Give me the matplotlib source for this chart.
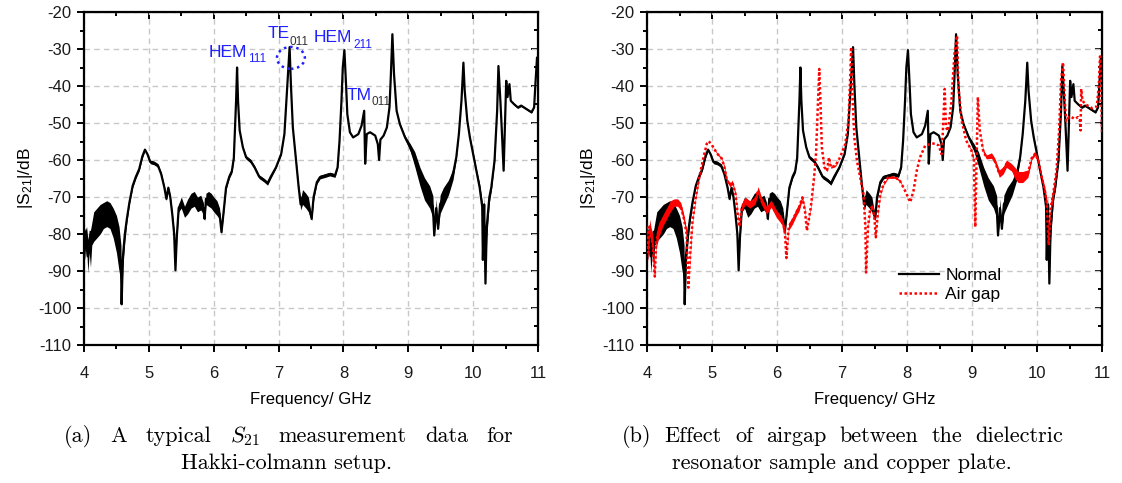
import numpy as np
import matplotlib
matplotlib.use("Agg")
import matplotlib.pyplot as plt
from matplotlib.patches import Ellipse
from matplotlib.ticker import MultipleLocator

plt.rcParams['font.family'] = ['Liberation Sans', 'DejaVu Sans']
plt.rcParams['mathtext.fontset'] = 'cm'
plt.rcParams['axes.unicode_minus'] = False

# ---------------- data ----------------
normal_f = [4.00, 4.02, 4.04, 4.06, 4.08, 4.10, 4.12, 4.15, 4.20, 4.25, 4.30, 4.35, 4.40,
            4.45, 4.50, 4.54, 4.57, 4.58, 4.60, 4.63, 4.66, 4.70, 4.75, 4.80, 4.85, 4.90,
            4.94, 4.98, 5.02, 5.08, 5.14, 5.19, 5.24, 5.27, 5.30, 5.33, 5.36, 5.39, 5.41,
            5.43, 5.46, 5.50, 5.55, 5.60, 5.65, 5.70, 5.75, 5.80, 5.84, 5.86, 5.88, 5.92,
            5.96, 6.00, 6.05, 6.09, 6.12, 6.15, 6.19, 6.24, 6.28, 6.31, 6.33, 6.345, 6.36,
            6.375, 6.40, 6.45, 6.50, 6.57, 6.63, 6.70, 6.78, 6.83, 6.88, 6.96, 7.04, 7.09,
            7.12, 7.15, 7.17, 7.19, 7.22, 7.27, 7.31, 7.34, 7.37, 7.42, 7.46, 7.51, 7.54,
            7.59, 7.64, 7.72, 7.79, 7.87, 7.91, 7.94, 7.97, 7.99, 8.015, 8.04, 8.06, 8.10,
            8.15, 8.23, 8.28, 8.32, 8.335, 8.36, 8.41, 8.49, 8.53, 8.55, 8.57, 8.62, 8.67,
            8.71, 8.73, 8.755, 8.78, 8.82, 8.87, 8.95, 9.03, 9.10, 9.18, 9.25, 9.33, 9.38,
            9.40, 9.43, 9.46, 9.49, 9.54, 9.62, 9.69, 9.74, 9.78, 9.82, 9.85, 9.87, 9.91,
            9.95, 10.00, 10.05, 10.10, 10.14, 10.15, 10.17, 10.19, 10.21, 10.25, 10.28,
            10.33, 10.37, 10.39, 10.42, 10.44, 10.47, 10.49, 10.51, 10.53, 10.56, 10.58,
            10.63, 10.69, 10.74, 10.82, 10.90, 10.94, 10.96, 10.985, 11.00]
normal_db = [-80, -83, -81, -86, -82, -84, -80, -78, -77, -76, -75, -74.5, -75,
             -77, -80, -84, -88, -99, -86, -80, -76, -71.5, -67, -64.5, -62.5, -59,
             -57.2, -58.5, -60.5, -60.8, -61.5, -63.8, -67.5, -70.5, -67.5, -70, -74.5, -80, -89.8,
             -81, -73, -71.5, -74, -72.5, -71, -70.5, -72, -71.5, -73, -75.9, -70.5, -70.5,
             -71, -72, -73, -74.5, -79.5, -74.5, -67.5, -64.5, -63, -59.5, -51, -44, -35,
             -44, -52, -56.6, -59.3, -60.3, -62, -64.5, -65.5, -66.3, -64.5, -62, -58.4, -53,
             -44, -35, -29.5, -39.5, -51.2, -60.2, -67.4, -72, -70, -71, -72, -75.9, -70,
             -66, -64.6, -64.2, -63.8, -64.2, -62, -54.8, -44, -35, -30.3, -39.5, -47.6, -52.5,
             -53.9, -53, -50.7, -46.7, -61, -53, -52.5, -53.4, -55.7, -60, -54.5, -53.4, -51.2,
             -45.8, -37.7, -26, -36.8, -46.7, -50.3, -53.9, -56.6, -59.8, -64.5, -67.8, -70, -72.7,
             -80.4, -73, -78.6, -72, -70, -67.4, -63.8, -59.3, -53, -44, -33.7, -41.3, -49.4,
             -53.9, -58.4, -62.9, -67.4, -72.7, -87, -72, -93.4, -78, -70, -67.4,
             -60.2, -46.7, -34.6, -44, -51.2, -62.9, -51, -38.6, -43, -39.5, -44,
             -44.9, -45.8, -45.3, -46.2, -47.1, -45.8, -39.5, -32.3, -36]
normal_noise = [4, 8, 6, 9, 6, 10, 6, 8, 8, 8, 7, 7, 7,
                8, 10, 12, 10, 0, 6, 4, 2, 1, 1, 1, 1, 1,
                0.5, 0.5, 1, 1, 1, 1, 1, 1, 1, 1, 1, 2, 0,
                2, 2, 3, 3, 4, 4, 4, 4, 4, 3, 1, 3, 4,
                4, 4, 4, 3, 1, 1, 1, 1, 1, 0.5, 0, 0, 0,
                0, 0, 0.5, 1, 1, 1, 1, 1, 1, 1, 0.5, 0.5, 0,
                0, 0, 0, 0, 0, 0.5, 1, 3, 4, 4, 4, 1, 2,
                1, 1, 1, 1, 1, 0.5, 0, 0, 0, 0, 0, 0, 0,
                0, 0, 0, 0, 0, 0, 0, 0, 0, 0, 0, 0, 0,
                0, 0, 0, 0, 0, 0.5, 1, 2, 4, 5, 6, 6, 6,
                0, 5, 0, 5, 5, 4, 3, 1, 0, 0, 0, 0, 0,
                0.5, 1, 1, 2, 3, 0, 5, 0, 6, 3, 2,
                1, 0, 0, 0, 0, 0, 0, 0, 0, 0, 0,
                0.5, 0.5, 0.5, 0.5, 0.5, 0, 0, 0, 0]

airgap_f = [4.00, 4.02, 4.04, 4.06, 4.09, 4.12, 4.14, 4.18, 4.24, 4.30, 4.36, 4.42, 4.47,
            4.52, 4.57, 4.61, 4.635, 4.67, 4.70, 4.75, 4.80, 4.87, 4.92, 4.95, 5.00, 5.08,
            5.15, 5.19, 5.23, 5.28, 5.31, 5.36, 5.40, 5.42, 5.46, 5.51, 5.58, 5.66, 5.71,
            5.76, 5.84, 5.91, 5.99, 6.07, 6.12, 6.145, 6.18, 6.24, 6.30, 6.34, 6.39, 6.43,
            6.46, 6.52, 6.57, 6.60, 6.63, 6.65, 6.67, 6.69, 6.73, 6.77, 6.80, 6.83, 6.90,
            6.97, 7.05, 7.10, 7.13, 7.14, 7.16, 7.19, 7.23, 7.28, 7.33, 7.36, 7.37, 7.40,
            7.43, 7.47, 7.50, 7.52, 7.55, 7.59, 7.64, 7.71, 7.82, 7.89, 7.97, 8.05, 8.10,
            8.15, 8.20, 8.28, 8.36, 8.43, 8.49, 8.53, 8.55, 8.58, 8.60, 8.63, 8.68, 8.73,
            8.77, 8.79, 8.84, 8.91, 8.99, 9.03, 9.05, 9.07, 9.09, 9.12, 9.17, 9.22, 9.30,
            9.35, 9.42, 9.48, 9.53, 9.61, 9.66, 9.71, 9.78, 9.86, 9.92, 9.97, 10.02, 10.07,
            10.12, 10.15, 10.18, 10.21, 10.25, 10.30, 10.34, 10.37, 10.40, 10.43, 10.45,
            10.49, 10.53, 10.58, 10.63, 10.66, 10.67, 10.68, 10.70, 10.75, 10.85, 10.92,
            10.95, 10.97, 10.99, 11.00]
airgap_db = [-78, -85, -78, -80, -83, -91.5, -82, -79, -76.5, -74.5, -72.5, -71.5, -71.5,
             -72.5, -76, -80, -94.5, -84, -76.5, -70, -65, -59.2, -55.6, -54.9, -56, -58.3,
             -59.6, -61.9, -65.5, -66.8, -65.9, -69, -75.4, -78, -72.7, -71, -72, -71, -68.2,
             -71, -73.6, -71.8, -74.5, -76.3, -79, -86.5, -78, -76.3, -74, -72.8, -70.1, -73.7,
             -79.1, -72.8, -64.7, -58.4, -44.9, -35.4, -45, -56.6, -62, -62.9, -59.3, -62, -61.5,
             -59.3, -55.7, -49.4, -35.9, -29.5, -42, -53.9, -60.2, -64.7, -69.2, -78.2, -90.4, -78,
             -73.7, -72.3, -76, -80.9, -74.6, -69.2, -66.5, -64.7, -64.7, -65.6, -68.3, -71.4, -68.3,
             -62.9, -59.3, -56.1, -55.7, -55.5, -56.1, -58.4, -53, -40.8, -51.2, -52.1, -44.9, -31.3,
             -26.4, -40, -49.3, -54.7, -57.4, -60.1, -78.1, -60, -43, -52, -57.4, -59.2, -58.8,
             -60.2, -63.7, -62.8, -61, -62, -63.5, -64.6, -64.6, -63.7, -59.4, -58.3, -60.1, -64.6,
             -68.2, -71.7, -83, -73, -69.1, -62.8, -52, -38.5, -33.6, -44.8, -49.5,
             -48.4, -48.4, -48.9, -48.4, -49.3, -52, -40.8, -44, -45, -46, -45.5,
             -40, -32, -42, -53]
airgap_noise = [4, 5, 4, 4, 5, 0, 4, 4, 3, 3, 3, 2, 2,
                2, 2, 2, 0, 2, 1, 1, 1, 0.5, 0, 0, 0, 0.5,
                0.5, 1, 1, 1, 1, 1, 1, 1, 2, 2, 2, 2, 2,
                2, 2, 2, 2, 2, 2, 0, 2, 2, 2, 2, 1, 1,
                0, 1, 0.5, 0, 0, 0, 0, 0, 0.5, 0.5, 0.5, 0.5, 0.5,
                0, 0, 0, 0, 0, 0, 0, 0, 0.5, 1, 1, 0, 1,
                1, 1, 1, 0, 1, 0.5, 0.5, 0.5, 0.5, 0.5, 0, 0, 0,
                0, 0, 0, 0, 0, 0, 0, 0, 0, 0, 0, 0, 0,
                0, 0, 0, 0, 0.5, 1, 0, 0, 0, 0, 1, 1, 1.5,
                1.5, 2, 2, 2, 2, 3, 3, 3, 2, 1, 1, 1, 1.5,
                2, 3, 0, 3, 2, 1, 0, 0, 0, 0, 0,
                0, 0, 0, 0, 0, 0, 0, 0, 0, 0, 0,
                0, 0, 0, 0]

x_ticks = [4, 5, 6, 7, 8, 9, 10, 11]
y_ticks = [-20, -30, -40, -50, -60, -70, -80, -90, -100, -110]

caption_a1 = ["(a)", "A", "typical", "$S_{21}$", "measurement", "data", "for"]
caption_a2 = "Hakki-colmann setup."
caption_b1 = ["(b)", "Effect", "of", "airgap", "between", "the", "dielectric"]
caption_b2 = "resonator sample and copper plate."

# ---------------- figure ----------------
W, H = 1122, 483
fig = plt.figure(figsize=(W / 100, H / 100), dpi=100)
ax1 = fig.add_axes([84 / W, 1 - 345 / H, 454 / W, 333 / H])
ax2 = fig.add_axes([647 / W, 1 - 345 / H, 455 / W, 333 / H])


def series(ax, f, db, noise, color, ls, lw, z, label):
    f = np.asarray(f); db = np.asarray(db); n = np.asarray(noise)
    ax.fill_between(f, db - n / 2, db + n / 2, color=color, lw=0, zorder=z)
    ax.plot(f, db, color=color, ls=ls, lw=lw, zorder=z + 0.1, label=label)


def style(ax):
    ax.set_xlim(4, 11)
    ax.set_ylim(-110, -20)
    ax.set_xticks(x_ticks)
    ax.set_yticks(y_ticks)
    ax.xaxis.set_minor_locator(MultipleLocator(0.5))
    ax.yaxis.set_minor_locator(MultipleLocator(5))
    ax.grid(True, which='major', color='#c8c8c8', ls=(0, (4, 3)), lw=1.0, zorder=0)
    for s in ax.spines.values():
        s.set_linewidth(1.6)
    ax.tick_params(which='both', labelsize=12, width=1.4, labelcolor='#1a1a1a',
                   direction='out', top=False, right=False)
    ax.tick_params(which='major', length=5)
    ax.tick_params(which='minor', length=3)
    ax.tick_params(axis='x', which='both', pad=10)
    ax.tick_params(axis='y', which='both', pad=4)
    ax.set_xlabel("Frequency/ GHz", fontsize=12, labelpad=8)
    ax.set_ylabel(r"$\mathregular{|S_{21}|/dB}$", fontsize=12.5, labelpad=2)
    top = ax.secondary_xaxis('top')
    top.set_xticks(x_ticks)
    top.xaxis.set_minor_locator(MultipleLocator(0.5))
    top.tick_params(which='both', direction='in', labeltop=False, width=1.4)
    top.tick_params(which='major', length=5)
    top.tick_params(which='minor', length=3)
    right = ax.secondary_yaxis('right')
    right.set_yticks(y_ticks)
    right.yaxis.set_minor_locator(MultipleLocator(5))
    right.tick_params(which='both', direction='in', labelright=False, width=1.4)
    right.tick_params(which='major', length=5)
    right.tick_params(which='minor', length=3)


series(ax1, normal_f, normal_db, normal_noise, 'black', '-', 1.6, 3, 'Normal')
style(ax1)

series(ax2, normal_f, normal_db, normal_noise, 'black', '-', 1.6, 3, 'Normal')
series(ax2, airgap_f, airgap_db, airgap_noise, '#ff0000', (0, (1, 1)), 1.8, 4, 'Air gap')
style(ax2)

# annotations (panel a)
blue = '#1f1fff'
ax1.text(5.927, -32.2, "HEM", color=blue, fontsize=12.5)
ax1.text(6.528, -33.4, "111", color=blue, fontsize=8.5)
ax1.text(6.837, -27.0, "TE", color=blue, fontsize=12.5)
ax1.text(7.176, -28.9, "011", color='#333333', fontsize=8.5)
ax1.text(7.546, -28.1, "HEM", color=blue, fontsize=12.5)
ax1.text(8.147, -29.7, "211", color=blue, fontsize=8.5)
ax1.text(8.055, -43.8, "TM", color=blue, fontsize=12.5)
ax1.text(8.44, -45.1, "011", color='#333333', fontsize=8.5)
ax1.add_patch(Ellipse((7.19, -32.4), 0.43, 5.9, fill=False, ec=blue,
                      ls=(0, (1, 1.5)), lw=1.8, zorder=5))

ax2.legend(loc='upper left', bbox_to_anchor=(0.553, 0.232), frameon=False,
           fontsize=12.5, handlelength=2.3, handletextpad=0.4, borderpad=0,
           borderaxespad=0, labelspacing=0.25)

# captions
cap_kw = dict(fontsize=16, family='cmr10', va='baseline')
renderer = fig.canvas.get_renderer()


def justified(words, x0, x1, ybase):
    texts = [fig.text(0, 1 - ybase / H, w, ha='left', **cap_kw) for w in words]
    widths = [t.get_window_extent(renderer).width for t in texts]
    gap = (x1 - x0 - sum(widths)) / (len(words) - 1)
    x = x0
    for t, w in zip(texts, widths):
        t.set_x(x / W)
        x += w + gap


justified(caption_a1, 64, 513, 442)
fig.text(287 / W, 1 - 469 / H, caption_a2, ha='center', **cap_kw)
justified(caption_b1, 622, 1063, 442)
fig.text(842 / W, 1 - 469 / H, caption_b2, ha='center', **cap_kw)

fig.savefig("out.png", dpi=100)
